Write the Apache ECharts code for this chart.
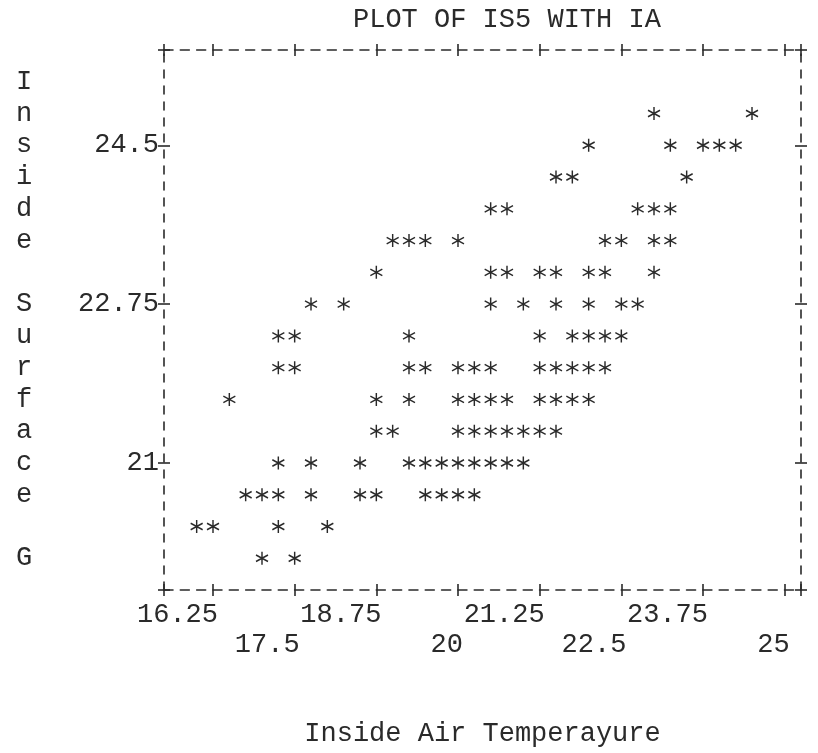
<!DOCTYPE html>
<html>
<head>
    <meta charset="utf-8">
    <title>PLOT OF IS5 WITH IA</title>
    <script src="https://cdn.jsdelivr.net/npm/echarts@6/dist/echarts.min.js"></script>
    <style>
        body { margin: 0; background: #fff; }
    </style>
</head>
<body>
    <div id="main" style="width: 818px;height:753px;"></div>

    <script>
        // tick labels
        var xTicks = [16.25, 17.5, 18.75, 20, 21.25, 22.5, 23.75, 25];
        var yTicks = [21, 22.75, 24.5];

        // one printed line per row: the IS5 value of the row, then the IA values of its stars
        var rowY = [24.85, 24.5, 24.15, 23.8, 23.45, 23.1, 22.75, 22.4, 22.05, 21.7, 21.35, 21.0, 20.65, 20.3, 19.95];
        var row0 = [23.0, 24.5];
        var row1 = [22.0, 23.25, 23.75, 24.0, 24.25];
        var row2 = [21.5, 21.75, 23.5];
        var row3 = [20.5, 20.75, 22.75, 23.0, 23.25];
        var row4 = [19.0, 19.25, 19.5, 20.0, 22.25, 22.5, 23.0, 23.25];
        var row5 = [18.75, 20.5, 20.75, 21.25, 21.5, 22.0, 22.25, 23.0];
        var row6 = [17.75, 18.25, 20.5, 21.0, 21.5, 22.0, 22.5, 22.75];
        var row7 = [17.25, 17.5, 19.25, 21.25, 21.75, 22.0, 22.25, 22.5];
        var row8 = [17.25, 17.5, 19.25, 19.5, 20.0, 20.25, 20.5, 21.25, 21.5, 21.75, 22.0, 22.25];
        var row9 = [16.5, 18.75, 19.25, 20.0, 20.25, 20.5, 20.75, 21.25, 21.5, 21.75, 22.0];
        var row10 = [18.75, 19.0, 20.0, 20.25, 20.5, 20.75, 21.0, 21.25, 21.5];
        var row11 = [17.25, 17.75, 18.5, 19.25, 19.5, 19.75, 20.0, 20.25, 20.5, 20.75, 21.0];
        var row12 = [16.75, 17.0, 17.25, 17.75, 18.5, 18.75, 19.5, 19.75, 20.0, 20.25];
        var row13 = [16.0, 16.25, 17.25, 18.0];
        var row14 = [17.0, 17.5];
        var rowX = [row0, row1, row2, row3, row4, row5, row6, row7, row8, row9, row10, row11, row12, row13, row14];

        // axis range (frame of the printout)
        var X_MIN = 15.5, X_MAX = 25.25;
        var Y_MIN = 19.6, Y_MAX = 25.55;

        var INK = '#2a2a2a';
        var FONT = '"Liberation Mono", "DejaVu Sans Mono", monospace';
        var FS = 27;

        var points = [];
        for (var i = 0; i < rowY.length; i++) {
            for (var j = 0; j < rowX[i].length; j++) {
                points.push([rowX[i][j], rowY[i]]);
            }
        }

        // '+' marks = outer tick on one axis + inner tick on a twin axis
        function xAxisPart(pos, inner, labels) {
            return {
                type: 'value', position: pos, min: X_MIN, max: X_MAX,
                axisLine: { show: !inner, lineStyle: { color: INK, width: 1.6, type: [9, 7.33] } },
                axisTick: { show: true, inside: inner, length: 6,
                    customValues: [X_MIN].concat(xTicks, [X_MAX]),
                    lineStyle: { color: INK, width: 1.6 } },
                axisLabel: labels ? {
                    customValues: xTicks,
                    align: 'right', margin: 10, padding: [0, -5, 0, 0],
                    fontFamily: FONT, fontSize: FS, color: INK, lineHeight: 30,
                    formatter: function (v) {
                        var k = xTicks.indexOf(v);
                        return (k % 2 === 1 ? '\n' : '') + v;
                    }
                } : { show: false },
                splitLine: { show: false }
            };
        }
        function yAxisPart(pos, inner, labels) {
            return {
                type: 'value', position: pos, min: Y_MIN, max: Y_MAX,
                axisLine: { show: !inner, lineStyle: { color: INK, width: 1.6, type: [8, 8] } },
                axisTick: { show: true, inside: inner, length: 6,
                    customValues: [Y_MIN].concat(yTicks, [Y_MAX]),
                    lineStyle: { color: INK, width: 1.6 } },
                axisLabel: labels ? {
                    customValues: yTicks, margin: 5,
                    fontFamily: FONT, fontSize: FS, color: INK
                } : { show: false },
                splitLine: { show: false }
            };
        }

        var xAxes = [xAxisPart('bottom', false, true), xAxisPart('bottom', true, false),
                     xAxisPart('top', false, false), xAxisPart('top', true, false)];
        var yAxes = [yAxisPart('left', false, true), yAxisPart('left', true, false),
                     yAxisPart('right', false, false), yAxisPart('right', true, false)];

        xAxes[0].name = 'Inside Air Temperayure';
        xAxes[0].nameLocation = 'middle';
        xAxes[0].nameGap = 130;
        xAxes[0].nameTextStyle = { fontFamily: FONT, fontSize: FS, color: INK };

        yAxes[0].name = 'Inside Surface G'.split('').join('\n');
        yAxes[0].nameLocation = 'middle';
        yAxes[0].nameRotate = 0;
        yAxes[0].nameGap = 140;
        yAxes[0].nameTextStyle = { fontFamily: FONT, fontSize: FS, color: INK, align: 'center', lineHeight: 31.77 };

        var myChart = echarts.init(document.getElementById('main'));
        var option = {
            backgroundColor: '#fff',
            animation: false,
            title: {
                text: 'PLOT OF IS5 WITH IA',
                left: 348, top: 1,
                textStyle: { fontFamily: FONT, fontSize: FS, fontWeight: 'normal', color: INK }
            },
            grid: { left: 164, right: 17, top: 50, bottom: 163, outerBoundsMode: 'none' },
            xAxis: xAxes,
            yAxis: yAxes,
            series: [{
                type: 'scatter',
                xAxisIndex: 0, yAxisIndex: 0,
                // printed asterisk
                symbol: 'path://M6,0L6,14M0,3.5L12,10.5M0,10.5L12,3.5',
                symbolSize: [12, 13],
                itemStyle: { color: 'transparent', borderColor: INK, borderWidth: 1.5, opacity: 1 },
                data: points
            }]
        };
        myChart.setOption(option);
    </script>
</body>
</html>
